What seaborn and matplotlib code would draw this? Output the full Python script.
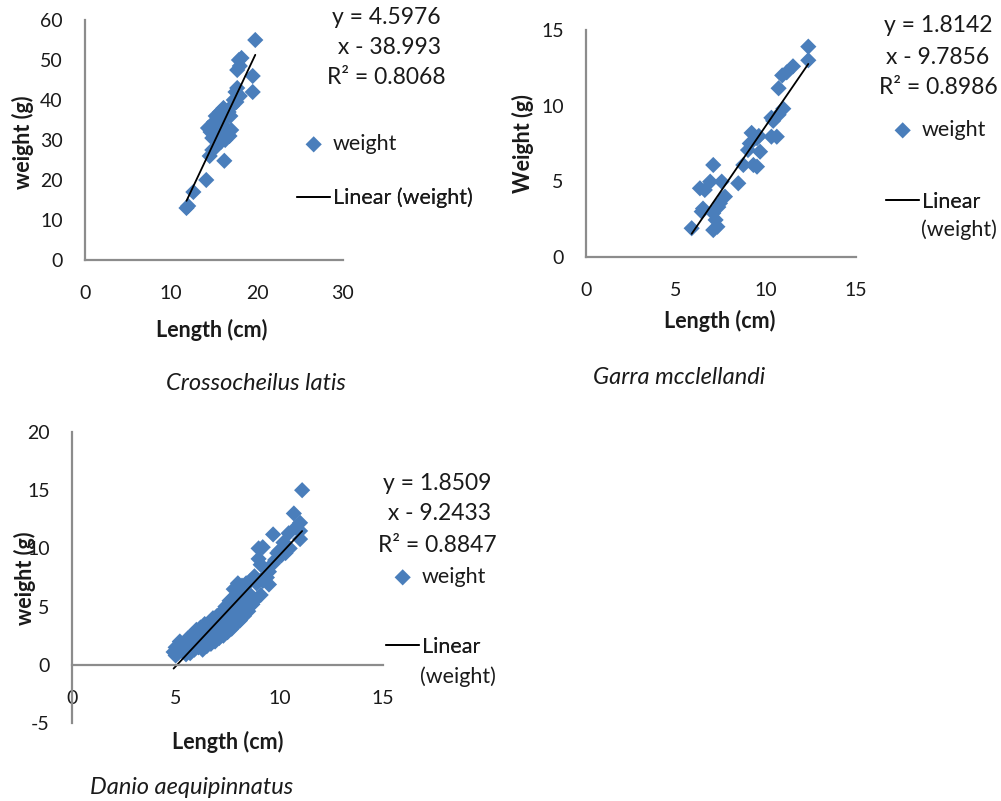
import pandas as pd
import numpy as np
import seaborn as sns
import matplotlib.pyplot as plt

# Crossocheilus latis
cl_length = [11.8, 12.0, 12.6, 14.1, 16.2, 14.5, 14.8, 15.1, 14.3, 14.6, 14.8, 15.0, 15.2, 15.4,
             15.5, 15.3, 15.7, 15.9, 16.0, 16.1, 16.3, 16.4, 16.6, 16.8, 16.3, 17.0, 16.9, 17.1,
             17.3, 17.5, 17.7, 18.0, 17.6, 16.7, 15.8, 17.7, 18.0, 18.2, 17.9, 19.5, 19.5, 19.8]
cl_weight = [13.0, 13.5, 17.0, 20.0, 24.8, 26.0, 27.5, 28.0, 33.0, 32.0, 30.5, 34.5, 36.0, 35.0,
             33.0, 31.0, 37.0, 34.0, 36.5, 38.0, 35.5, 33.0, 32.0, 31.0, 30.0, 32.5, 36.0, 38.5,
             40.0, 42.0, 43.0, 41.0, 39.5, 37.0, 29.5, 47.5, 48.5, 50.5, 50.0, 46.0, 42.0, 55.0]

# Garra mcclellandi
gm_length = [5.87, 6.43, 6.33, 6.6, 6.9, 7.07, 7.07, 7.2, 7.07, 7.35, 7.44, 7.54, 7.72, 8.46,
             8.74, 9.0, 9.2, 9.3, 9.5, 9.5, 9.67, 10.3, 10.6, 10.3, 10.7, 10.96, 10.7, 10.9,
             11.15, 11.5, 12.35, 12.35, 6.5, 7.3, 9.1, 9.6, 10.4]
gm_weight = [1.9, 3.0, 4.54, 4.43, 4.98, 6.08, 2.9, 2.45, 1.78, 3.3, 3.55, 4.98, 3.99, 4.87,
             6.08, 7.07, 8.2, 6.08, 5.97, 7.85, 6.96, 7.95, 7.95, 9.2, 9.4, 9.8, 11.15, 12.0,
             12.2, 12.6, 13.0, 13.9, 3.2, 2.0, 7.5, 8.0, 9.0]

# Danio aequipinnatus
da_length = [4.9, 5.0, 5.0, 5.1, 5.2, 5.3, 5.4, 5.5, 5.6, 5.6, 5.7, 5.8, 5.8, 5.9, 6.0, 6.0,
             6.1, 6.2, 6.2, 6.3, 6.3, 6.4, 6.4, 6.5, 6.5, 6.6, 6.6, 6.7, 6.7, 6.8, 6.8, 6.9,
             6.9, 7.0, 7.0, 7.1, 7.1, 7.2, 7.2, 7.3, 7.3, 7.4, 7.4, 7.5, 7.5, 7.6, 7.6, 7.7,
             7.7, 7.8, 7.8, 7.8, 7.9, 7.9, 8.0, 8.0, 8.0, 8.1, 8.1, 8.2, 8.2, 8.3, 8.3, 8.4,
             8.4, 8.5, 8.5, 8.6, 8.6, 8.7, 8.8, 8.8, 8.9, 9.0, 9.0, 9.1, 9.1, 9.2, 9.2, 9.3,
             9.4, 9.5, 9.5, 9.7, 9.7, 9.8, 9.9, 10.0, 10.1, 10.2, 10.3, 10.45, 10.5, 10.7, 10.8,
             11.0, 11.0, 11.1, 11.0]
da_weight = [1.1, 0.8, 1.5, 1.0, 2.0, 1.2, 1.8, 0.9, 2.3, 1.4, 1.0, 2.6, 1.8, 1.3, 3.0, 2.2,
             1.5, 3.2, 2.5, 1.8, 1.3, 3.5, 2.8, 2.1, 1.6, 3.6, 3.0, 2.4, 1.8, 4.0, 3.3, 2.7,
             2.0, 4.2, 3.6, 3.0, 2.3, 4.5, 3.8, 3.2, 2.5, 5.0, 4.1, 3.5, 2.8, 5.5, 4.5, 3.8,
             3.1, 6.5, 5.8, 4.9, 4.2, 3.5, 7.0, 6.0, 5.2, 4.5, 3.8, 6.8, 5.6, 4.9, 4.2, 7.0,
             6.2, 5.4, 4.6, 7.2, 6.0, 5.2, 7.6, 5.5, 7.0, 9.1, 10.0, 8.6, 6.0, 10.1, 7.2, 7.6,
             7.5, 8.0, 6.9, 11.2, 8.7, 9.0, 9.6, 9.8, 9.4, 10.5, 9.6, 11.3, 10.0, 13.0, 11.8,
             12.2, 11.5, 15.0, 10.8]

species = ["Crossocheilus latis", "Garra mcclellandi", "Danio aequipinnatus"]
y_labels = ["weight (g)", "Weight (g)", "weight (g)"]
equations = [["y = 4.5976", " x - 38.993", "R\u00b2 = 0.8068"],
             ["y = 1.8142", "x - 9.7856", "R\u00b2 = 0.8986"],
             ["y = 1.8509", " x - 9.2433", "R\u00b2 = 0.8847"]]
line_labels = ["Linear (weight)", "Linear", "Linear"]

sns.set_style("white")
plt.rcParams["font.family"] = ["Lato", "DejaVu Sans"]
plt.rcParams["axes.unicode_minus"] = False

W, H = 1001, 801
fig = plt.figure(figsize=(W / 100, H / 100), dpi=100)

def px(x, y):
    return x / W, 1 - y / H

def box(left, top, right, bottom):
    return [left / W, 1 - bottom / H, (right - left) / W, (bottom - top) / H]

blue = "#4a7ebb"
grey = "#8c8c8c"
ink = "#1a1a1a"

axes = [fig.add_axes(box(85, 20, 343, 260)),
        fig.add_axes(box(586, 30, 856, 257)),
        fig.add_axes(box(72, 432, 383, 723))]
data = [(cl_length, cl_weight), (gm_length, gm_weight), (da_length, da_weight)]
limits = [((0, 30), (0, 60), [0, 10, 20, 30], [0, 10, 20, 30, 40, 50, 60]),
          ((0, 15), (0, 15), [0, 5, 10, 15], [0, 5, 10, 15]),
          ((0, 15), (-5, 20), [0, 5, 10, 15], [-5, 0, 5, 10, 15, 20])]

for i, ax in enumerate(axes):
    df = pd.DataFrame({"length": data[i][0], "weight": data[i][1]})
    sns.scatterplot(data=df, x="length", y="weight", marker="D", s=68, color=blue,
                    edgecolor="none", label="weight", ax=ax)
    sns.regplot(data=df, x="length", y="weight", scatter=False, ci=None, color="black",
                line_kws=dict(lw=1.3), label=line_labels[i], ax=ax)
    xl, yl, xt, yt = limits[i]
    ax.set_xlim(xl)
    ax.set_ylim(yl)
    ax.set_xticks(xt)
    ax.set_yticks(yt)
    ax.set_xlabel("")
    ax.set_ylabel("")
    for s in ["top", "right"]:
        ax.spines[s].set_visible(False)
    for s in ["left", "bottom"]:
        ax.spines[s].set_color(grey)
        ax.spines[s].set_linewidth(1.6)
    ax.spines["bottom"].set_position(("data", 0))
    ax.tick_params(axis="both", direction="out", length=6, width=1.6, color=grey,
                   labelsize=14, labelcolor=ink)
    ax.tick_params(axis="x", pad=12)
    ax.tick_params(axis="y", pad=10)
    ax.get_legend().remove()

# legends: one entry each, placed like the Excel legend rows
leg_x = [297, 886, 386]
leg_y = [(144, 198), (130, 202), (577, 647)]
for i, ax in enumerate(axes):
    handles, labels = ax.get_legend_handles_labels()
    for h, lab, yy in zip(handles, labels, leg_y[i]):
        leg = ax.legend([h], [lab], loc="center left", bbox_to_anchor=px(leg_x[i], yy),
                        bbox_transform=fig.transFigure, frameon=False, fontsize=15.5,
                        borderpad=0, borderaxespad=0, handlelength=1.55, handletextpad=0.12,
                        labelcolor=ink)
        ax.add_artist(leg)
fig.text(*px(921, 230), "(weight)", ha="left", va="center", fontsize=15.5, color=ink)
fig.text(*px(420, 677), "(weight)", ha="left", va="center", fontsize=15.5, color=ink)

# equations
eq_pos = [(386, [17, 47, 77]), (938, [26, 57, 87]), (437, [483, 514, 545])]
for i in range(3):
    cx, ys = eq_pos[i]
    for line, yy in zip(equations[i], ys):
        fig.text(*px(cx, yy), line, ha="center", va="center", fontsize=16.5, color=ink)

# axis labels and species names
xlab_pos = [(212, 330), (720, 321), (228, 742)]
ylab_pos = [(23, 142), (523, 144), (25, 578)]
sp_pos = [(256, 383), (679, 377), (192, 787)]
for i in range(3):
    fig.text(*px(*xlab_pos[i]), "Length (cm)", ha="center", va="center", fontsize=15.5,
             fontweight="bold", color=ink)
    fig.text(*px(*ylab_pos[i]), y_labels[i], ha="center", va="center", rotation=90,
             fontsize=15.5, fontweight="bold", color=ink)
    fig.text(*px(*sp_pos[i]), species[i], ha="center", va="center", fontsize=17,
             style="italic", color=ink)

fig.savefig("out.png", dpi=100)
